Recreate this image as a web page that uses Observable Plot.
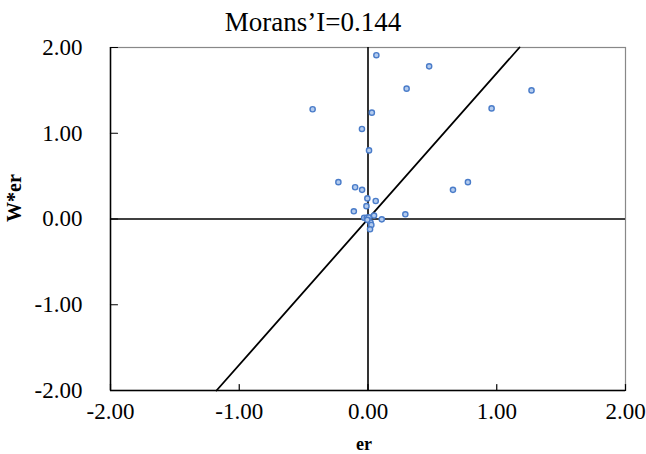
<!DOCTYPE html>
<html>
<head>
<meta charset="utf-8">
<script src="https://cdn.jsdelivr.net/npm/d3@7"></script>
<script src="https://cdn.jsdelivr.net/npm/@observablehq/plot@0.6"></script>
<style>
  html, body { margin: 0; padding: 0; background: #fff; }
  #wrap { width: 646px; height: 454px; position: relative; background: #fff; }
  #title { position: absolute; left: 0; top: 9px; width: 626px; text-align: center; line-height: 27px;
           font-family: "Liberation Serif", "Times New Roman", serif; font-size: 27px; color: #000; white-space: nowrap; }
  #chart { position: absolute; left: 0; top: 26px; }
  #chart svg { overflow: visible; }
  #chart svg text { font-family: "Liberation Serif", "Times New Roman", serif; }
</style>
</head>
<body>
<div id="wrap">
  <div id="chart"></div>
  <div id="title"></div>
</div>
<script>
// Data
const titleText = "Morans’I=0.144";
const erValues  = [0.065, 0.475, 0.30, 1.27, -0.43, 0.96, 0.03, -0.047, 0.008, -0.23, -0.10, -0.046, 0.66, 0.776,
                   -0.005, 0.06, -0.012, -0.11, 0.29, 0.107, 0.047, -0.03, -0.01, 0.005, 0.02, 0.026, 0.016, -0.005];
const werValues = [1.91, 1.78, 1.52, 1.50, 1.28, 1.29, 1.24, 1.05, 0.80, 0.43, 0.37, 0.34, 0.34, 0.43,
                   0.24, 0.21, 0.15, 0.09, 0.055, -0.004, 0.04, 0.015, 0.015, 0.02, -0.04, -0.07, -0.12, -0.01];
const fitSlope = 1.7;
const fitYEnds = [-2, 2];
const xTicks = [-2, -1, 0, 1, 2];
const yTicks = [-2, -1, 0, 1, 2];
const xLabel = "er";
const yLabel = "W*er";

document.getElementById("title").textContent = titleText;

const points = erValues.map((x, i) => ({x, y: werValues[i]}));
const fitLine = fitYEnds.map(y => ({x: y / fitSlope, y}));
const fmt = d => d.toFixed(2);
const tickShape = {draw(context, l) { context.moveTo(0, 0); context.lineTo(0, -l); }};
const font = "Liberation Serif";

const chart = Plot.plot({
  width: 646,
  height: 428,
  marginLeft: 110,
  marginRight: 21,
  marginTop: 21,
  marginBottom: 64,
  style: {fontFamily: font, background: "none", color: "#000", fontSize: "23px", overflow: "visible"},
  x: {domain: [-2, 2], axis: null},
  y: {domain: [-2, 2], axis: null},
  marks: [
    Plot.frame({stroke: "#888", strokeWidth: 1.2}),
    Plot.ruleX([xTicks[0]], {stroke: "#000", strokeWidth: 1.5}),
    Plot.ruleY([yTicks[0]], {stroke: "#000", strokeWidth: 1.5}),
    Plot.ruleX([0], {stroke: "#000", strokeWidth: 1.6}),
    Plot.ruleY([0], {stroke: "#000", strokeWidth: 1.6}),
    Plot.vector(yTicks, {x: xTicks[0], y: d => d, length: 7, rotate: 90, anchor: "start", shape: tickShape, stroke: "#000", strokeWidth: 1.2}),
    Plot.vector(xTicks, {x: d => d, y: yTicks[0], length: 6, rotate: 0, anchor: "start", shape: tickShape, stroke: "#000", strokeWidth: 1.2}),
    Plot.line(fitLine, {x: "x", y: "y", stroke: "#000", strokeWidth: 1.8}),
    Plot.dot(points, {x: "x", y: "y", r: 2.6, fill: "#b3cbee", stroke: "#4a7cc9", strokeWidth: 1.4}),
    Plot.text(xTicks, {x: d => d, y: yTicks[0], text: fmt, dy: 21, fontSize: 23, fontFamily: font, fill: "#000"}),
    Plot.text(yTicks, {x: xTicks[0], y: d => d, text: fmt, dx: -28, textAnchor: "end", fontSize: 23, fontFamily: font, fill: "#000"}),
    Plot.text([xLabel], {frameAnchor: "bottom", dy: 59, dx: -4, fontWeight: "bold", fontSize: 18, fontFamily: font, fill: "#000"}),
    Plot.text([yLabel], {frameAnchor: "left", dx: -96, dy: 3, rotate: -90, fontWeight: "bold", fontSize: 20, fontFamily: font, fill: "#000"})
  ]
});
document.getElementById("chart").appendChild(chart);
</script>
</body>
</html>
